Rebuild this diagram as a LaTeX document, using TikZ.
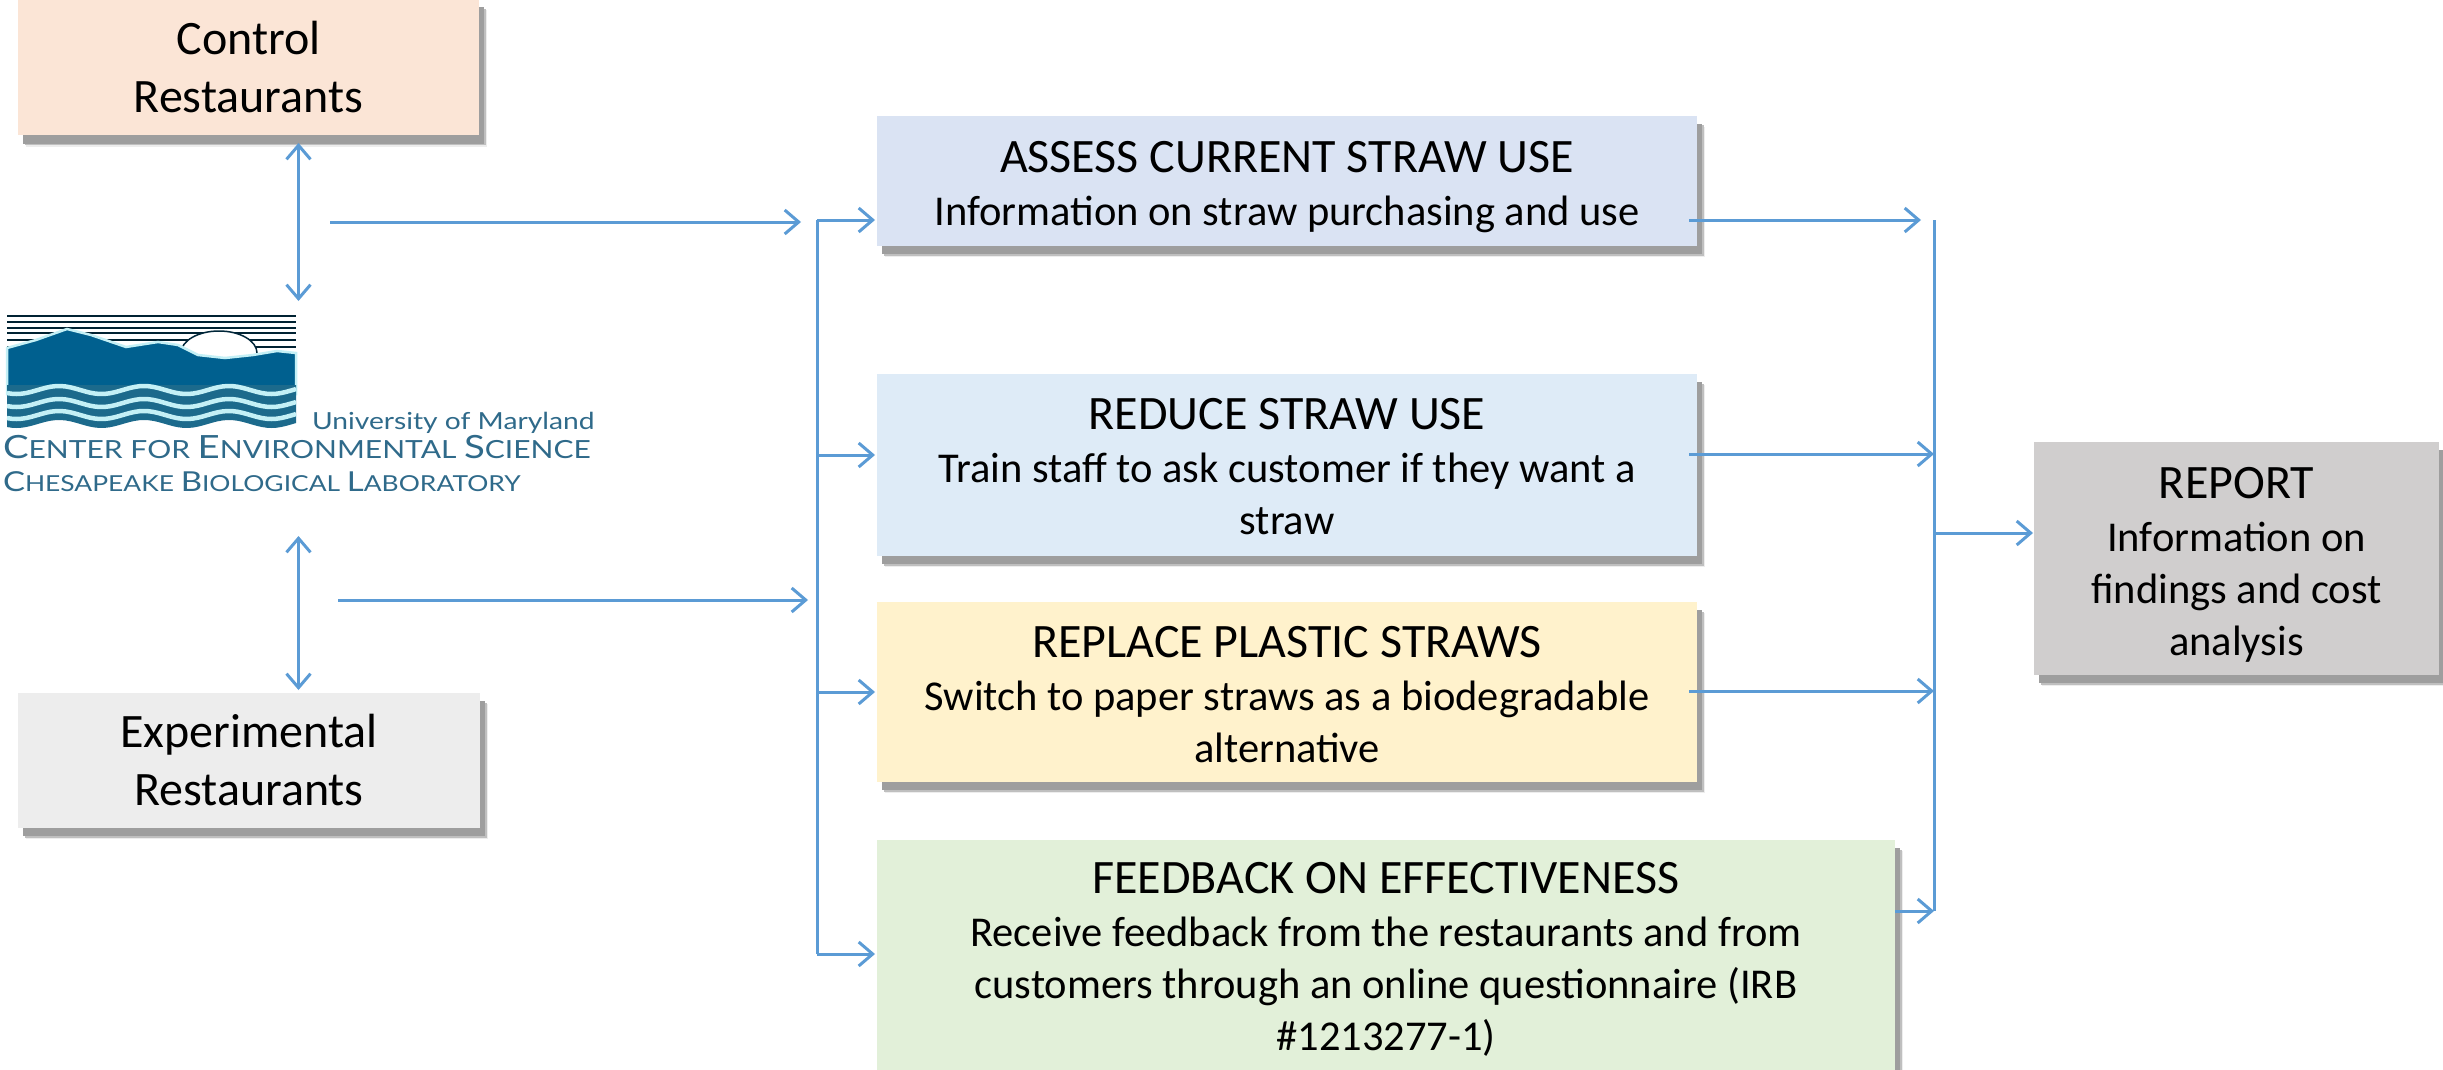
\documentclass[tikz,border=0pt]{standalone}
\usepackage{fontspec}
\setmainfont{Carlito}
\newfontfamily\logofont[FakeStretch=1.2]{Lato}
\usetikzlibrary{arrows.meta,shadows}
\definecolor{arrowblue}{HTML}{5B9BD5}
\definecolor{cControl}{HTML}{FBE5D6}
\definecolor{cExp}{HTML}{EDEDED}
\definecolor{cAssess}{HTML}{DAE3F3}
\definecolor{cReduce}{HTML}{DEEBF7}
\definecolor{cReplace}{HTML}{FFF2CC}
\definecolor{cFeedback}{HTML}{E2F0D9}
\definecolor{cReport}{HTML}{D0CECE}
\definecolor{logoblue}{HTML}{00608F}
\definecolor{logoteal}{HTML}{1C6A8C}
\definecolor{logocyan}{HTML}{C4F0F6}
\definecolor{logotext}{HTML}{2F6A8A}
\newcommand{\bigsm}[2]{{\fontsize{#1}{#1}\selectfont #2}}
\newcommand{\ttl}[1]{{\fontsize{48}{52}\selectfont #1}}
\newcommand{\ttls}[2][40pt]{\rule{0pt}{#1}{\fontsize{48}{52}\selectfont #2}}
\tikzset{
  box/.style={rectangle,inner sep=0pt,outer sep=0pt,align=center,text=black,
    font=\fontsize{42.5}{52}\selectfont,
    general shadow={shadow xshift=8pt,shadow yshift=-11pt,fill=black!7},
    general shadow={shadow xshift=7pt,shadow yshift=-9.5pt,fill=black!25},
    general shadow={shadow xshift=5pt,shadow yshift=-8pt,fill=black!38}},
  link/.style={draw=arrowblue,line width=3pt,-{Straight Barb[length=14pt,width=24pt,line width=3pt]}},
  linkboth/.style={draw=arrowblue,line width=3pt,{Straight Barb[length=14pt,width=24pt,line width=3pt]}-{Straight Barb[length=14pt,width=24pt,line width=3pt]}},
  bus/.style={draw=arrowblue,line width=3pt},
  logotxt/.style={anchor=base west,inner sep=0pt,outer sep=0pt,text=logotext}
}
\begin{document}
\begin{tikzpicture}[x=1pt,y=-1pt]
\useasboundingbox (0,0) rectangle (2443,1070);
\begin{scope}
\clip (0,0) rectangle (2443,1070);
\node[box,fill=cControl,minimum width=461pt,minimum height=136pt] (control) at (248.5,67.5) {\ttl{Control}\\[6pt]\ttl{Restaurants}};
\node[box,fill=cExp,minimum width=462pt,minimum height=135pt] (experimental) at (249,760.5) {\ttl{Experimental}\\[6pt]\ttl{Restaurants}};
\node[box,fill=cAssess,minimum width=820pt,minimum height=130pt] (assess) at (1287,181) {\ttls[43pt]{ASSESS CURRENT STRAW USE}\\[1pt]Information on straw purchasing and use};
\node[box,fill=cReduce,minimum width=820pt,minimum height=182pt] (reduce) at (1287,465) {\ttls[35pt]{REDUCE STRAW USE}\\[1pt]Train staff to ask customer if they want a\\straw};
\node[box,fill=cReplace,minimum width=820pt,minimum height=180pt] (replace) at (1287,692) {\ttls[37pt]{REPLACE PLASTIC STRAWS}\\[1pt]Switch to paper straws as a biodegradable\\alternative};
\node[box,fill=cFeedback,minimum width=1018pt,minimum height=230pt] (feedback) at (1386,955) {\ttls{FEEDBACK ON EFFECTIVENESS}\\[1pt]Receive feedback from the restaurants and from\\customers through an online questionnaire (IRB\\\#1213277-1)};
\node[box,fill=cReport,minimum width=405pt,minimum height=233pt] (report) at (2236.5,558.5) {\ttls[44pt]{REPORT}\\[1pt]Information on\\findings and cost\\analysis};
\end{scope}
% logo
\foreach \yy/\ww in {316/2.5,322/1.6,328/1.6,333/1.6,340/1.6,347/1.6}
  \draw[draw=black!65!logoblue,line width=\ww pt] (7,\yy) -- (296,\yy);
\filldraw[fill=white,draw=black!60!logoblue,line width=1.5pt] (219,353) ellipse (38pt and 22pt);
\fill[logoblue,draw=logocyan,line width=2.5pt] (7,348) -- (36,340) -- (67,329) -- (91,335) -- (126,347) -- (158,342) -- (178,345) -- (198,355) -- (225,358) -- (253,355) -- (277,351) -- (296,353) -- (296,394) -- (7,394) -- cycle;
\fill[logoteal] (7,385) -- plot[domain=7:296,samples=60] (\x,{424-4*cos(4.235*(\x-59))}) -- (296,385) -- cycle;
\foreach \yy in {390,403,415}
  \draw[logocyan,line width=4.5pt] plot[domain=7:296,samples=60] (\x,{\yy-4*cos(4.235*(\x-59))});
\node[logotxt] (logoA) at (312,429) {\logofont\fontsize{23.5}{24}\selectfont University of Maryland};
\node[logotxt] (logoB) at (3,458) {\logofont\bigsm{32}{C}\bigsm{25}{ENTER FOR }\bigsm{32}{E}\bigsm{25}{NVIRONMENTAL }\bigsm{32}{S}\bigsm{25}{CIENCE}};
\node[logotxt] (logoC) at (3,491) {\logofont\bigsm{27.5}{C}\bigsm{22}{HESAPEAKE }\bigsm{27.5}{B}\bigsm{22}{IOLOGICAL }\bigsm{27.5}{L}\bigsm{22}{ABORATORY}};
% connector end points
\coordinate (ctlA) at (298.5,143);
\coordinate (ctlB) at (298.5,301);
\coordinate (expA) at (298.5,536);
\coordinate (expB) at (298.5,690);
\coordinate (h1a) at (330,222);
\coordinate (h1b) at (801,222);
\coordinate (h2a) at (338,600);
\coordinate (h2b) at (808,600);
\coordinate (lt) at (817,220);
\coordinate (l2) at (817,455);
\coordinate (l3) at (817,692);
\coordinate (lb) at (817,954);
\coordinate (a1) at (1689,220);
\coordinate (a2) at (1689,454);
\coordinate (a3) at (1689,691);
\coordinate (rt) at (1934,220);
\coordinate (r1) at (1921,220);
\coordinate (r2) at (1934,454);
\coordinate (r3) at (1934,691);
\coordinate (r4) at (1934,911);
\coordinate (rr) at (1934,533);
\coordinate (f4) at (1895,911);
\coordinate (as) at (875,220);
\coordinate (rs) at (875,455);
\coordinate (ps) at (875,692);
\coordinate (fs) at (875,954);
\coordinate (rp) at (2033,533);
\draw[linkboth] (ctlA) -- (ctlB);
\draw[linkboth] (expA) -- (expB);
\draw[link] (h1a) -- (h1b);
\draw[link] (h2a) -- (h2b);
\draw[bus] (lt) -- (lb);
\draw[link] (lt) -- (as);
\draw[link] (l2) -- (rs);
\draw[link] (l3) -- (ps);
\draw[link] (lb) -- (fs);
\draw[link] (a1) -- (r1);
\draw[link] (a2) -- (r2);
\draw[link] (a3) -- (r3);
\draw[link] (f4) -- (r4);
\draw[bus] (rt) -- (r4);
\draw[link] (rr) -- (rp);
\end{tikzpicture}
\end{document}
